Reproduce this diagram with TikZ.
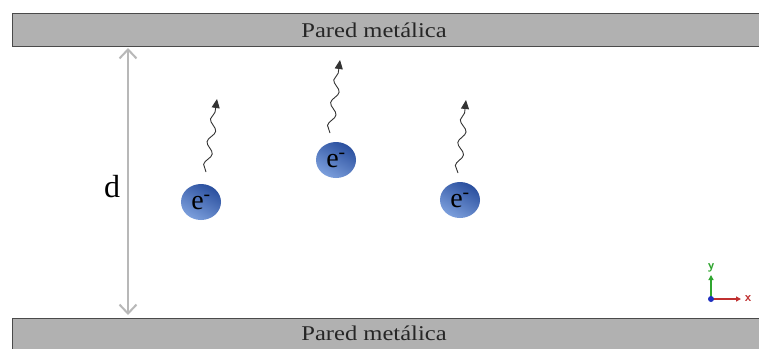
\documentclass[tikz,border=0pt]{standalone}
\usepackage{fontspec}
\setmainfont{Liberation Serif}
\usetikzlibrary{arrows.meta,decorations.pathmorphing,shapes.geometric}
\definecolor{wallfill}{HTML}{B1B1B1}
\definecolor{wallline}{HTML}{4A4A4A}
\definecolor{elecdark}{HTML}{2A4F9E}
\definecolor{eleclight}{HTML}{7C9FDC}
\definecolor{dimgray}{HTML}{B8B8B8}
\definecolor{axgreen}{HTML}{2FA52F}
\definecolor{axred}{HTML}{C03030}
\definecolor{axblue}{HTML}{2030C0}
\tikzset{
  wall/.style={fill=wallfill, draw=wallline, line width=0.8pt},
  walltext/.style={font=\fontsize{21}{21}\selectfont, inner sep=0pt, anchor=base, xscale=1.17, text=black!85},
  electron/.style={ellipse, minimum width=40pt, minimum height=36pt, inner sep=0pt,
    shading=axis, top color=elecdark, bottom color=eleclight, shading angle=-30,
    font=\fontsize{28}{28}\selectfont},
  wavy/.style={draw=black!80, line width=0.9pt,
    decorate, decoration={snake, amplitude=3.5pt, segment length=23pt, post length=7pt},
    -{Triangle[length=9pt,width=8pt]}},
  dimarrow/.style={draw=dimgray, line width=2pt,
    {Straight Barb[length=9pt,width=17pt]}-{Straight Barb[length=9pt,width=17pt]}},
  axlabel/.style={font=\sffamily\bfseries\fontsize{13}{13}\selectfont, inner sep=0pt},
}
\begin{document}
\begin{tikzpicture}[x=1pt,y=-1pt]
\clip (0,0) rectangle (759,348);
\fill[white] (0,0) rectangle (759,348);
% walls
\path[wall] (12,13) rectangle (770,46);
\node[walltext] (toplabel) at (374,37.3) {Pared metálica};
\path[wall] (12,318) rectangle (770,360);
\node[walltext] (botlabel) at (374,340.5) {Pared metálica};
% distance arrow
\coordinate (dtop) at (128,48);
\coordinate (dbot) at (128,315);
\draw[dimarrow] (dtop) -- (dbot);
\node[font=\fontsize{32}{32}\selectfont, inner sep=0pt] (dlabel) at (112,187) {d};
% electrons
\node[electron] (e1) at (201,202) {e\textsuperscript{-}};
\node[electron] (e2) at (336,160) {e\textsuperscript{-}};
\node[electron] (e3) at (460,200) {e\textsuperscript{-}};
% photon/emission arrows
\coordinate (w1s) at (206,172); \coordinate (w1e) at (217,99);
\coordinate (w2s) at (330,133); \coordinate (w2e) at (340,60);
\coordinate (w3s) at (458,173); \coordinate (w3e) at (466,100);
\draw[wavy] (w1s) -- (w1e);
\draw[wavy] (w2s) -- (w2e);
\draw[wavy] (w3s) -- (w3e);
% axes
\coordinate (o) at (711,299);
\coordinate (ytip) at (711,275);
\coordinate (xtip) at (741,299);
\draw[axgreen, line width=2pt, -{Triangle[length=5pt,width=5pt]}] (o) -- (ytip);
\draw[axred, line width=2pt, -{Triangle[length=5pt,width=5pt]}] (o) -- (xtip);
\fill[axblue] (o) circle (3pt);
\node[axlabel, text=axgreen] (ylab) at (711,268) {y};
\node[axlabel, text=axred] (xlab) at (748,298.5) {x};
\end{tikzpicture}
\end{document}
